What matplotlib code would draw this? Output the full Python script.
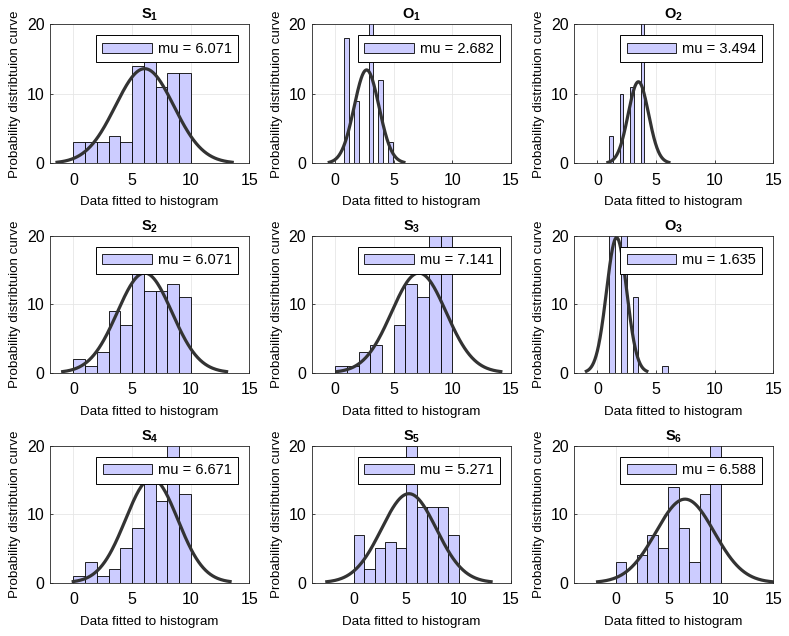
import numpy as np
import matplotlib
matplotlib.use("Agg")
import matplotlib.pyplot as plt

plt.rcParams['font.family'] = ['Liberation Sans', 'DejaVu Sans']
plt.rcParams['mathtext.fontset'] = 'custom'
plt.rcParams['mathtext.rm'] = 'Liberation Sans'
plt.rcParams['mathtext.bf'] = 'Liberation Sans:bold'
plt.rcParams['mathtext.it'] = 'Liberation Sans:italic'

# ---- data ----
titles = ['S_1', 'O_1', 'O_2', 'S_2', 'S_3', 'O_3', 'S_4', 'S_5', 'S_6']
mus = [6.071, 2.682, 3.494, 6.071, 7.141, 1.635, 6.671, 5.271, 6.588]
sigmas = [2.49, 1.06, 0.867, 2.33, 2.33, 0.86, 2.23, 2.61, 2.78]
bin_starts = [0.0, 0.75, 1.0, 0.0, 0.0, 1.0, 0.0, 0.0, 0.0]
bin_widths = [1.0, 0.42, 0.3, 1.0, 1.0, 0.5, 1.0, 1.0, 1.0]
counts_S1 = [3, 3, 3, 4, 3, 14, 18, 11, 13, 13]
counts_O1 = [18, 0, 9, 0, 0, 43, 0, 12, 0, 3]
counts_O2 = [4, 0, 0, 10, 0, 0, 11, 0, 0, 60]
counts_S2 = [2, 1, 3, 9, 7, 15, 12, 12, 13, 11]
counts_S3 = [1, 1, 3, 4, 0, 7, 13, 11, 21, 24]
counts_O3 = [46, 0, 27, 0, 11, 0, 0, 0, 0, 1]
counts_S4 = [1, 3, 1, 2, 5, 8, 15, 12, 25, 13]
counts_S5 = [7, 2, 5, 6, 5, 20, 11, 11, 11, 7]
counts_S6 = [3, 0, 4, 7, 5, 14, 8, 3, 13, 28]
all_counts = [counts_S1, counts_O1, counts_O2, counts_S2, counts_S3,
              counts_O3, counts_S4, counts_S5, counts_S6]
xlims_left = [-2, -2, -2, -2, -2, -2, -2, -4, -4]
x_ticks = [0, 5, 10, 15]
y_ticks = [0, 10, 20]

# ---- layout ----
W, H = 789, 636
fig = plt.figure(figsize=(W / 100, H / 100), dpi=100)
col_left = [50, 311.7, 574]
ax_w = 199.3
row_top = [24.3, 235.7, 445.7]
row_h = [139, 137, 137]

bar_face = (0.8, 0.8, 1.0)
curve_col = (0.2, 0.2, 0.2)

for i in range(9):
    r, c = divmod(i, 3)
    left = col_left[c] / W
    bottom = 1 - (row_top[r] + row_h[r]) / H
    ax = fig.add_axes([left, bottom, ax_w / W, row_h[r] / H])
    counts = np.array(all_counts[i])
    bw = bin_widths[i]
    edges = bin_starts[i] + bw * np.arange(len(counts) + 1)
    centers = edges[:-1] + bw / 2
    bars = ax.bar(centers, counts, width=bw, color=bar_face,
                  edgecolor='black', linewidth=0.6, zorder=2)
    n = counts.sum()
    mu, sd = mus[i], sigmas[i]
    xs = np.linspace(mu - 3 * sd, mu + 3 * sd, 200)
    ys = n * bw * np.exp(-0.5 * ((xs - mu) / sd) ** 2) / (sd * np.sqrt(2 * np.pi))
    ax.plot(xs, ys, color=curve_col, linewidth=2.3, zorder=3)

    ax.set_xlim(xlims_left[i], 15)
    ax.set_ylim(0, 20)
    ax.set_xticks(x_ticks)
    ax.set_yticks(y_ticks)
    ax.grid(True, color=(0.9, 0.9, 0.9), linewidth=0.6, zorder=0)
    ax.set_axisbelow(True)
    for sp in ax.spines.values():
        sp.set_color((0.15, 0.15, 0.15))
        sp.set_linewidth(0.6)
    ax.tick_params(direction='in', length=2.5, width=0.6, labelsize=11.5,
                   colors=(0.15, 0.15, 0.15), labelcolor='black')
    ax.tick_params(axis='x', pad=7)
    ax.tick_params(axis='y', pad=4)
    ax.set_title(r'$\mathbf{' + titles[i] + '}$', fontsize=10.5, pad=4)
    ax.set_xlabel('Data fitted to histogram', fontsize=9.6, labelpad=6)
    ax.set_ylabel('Probability distribtuion curve', fontsize=9.6, labelpad=4)
    leg = ax.legend([bars], ['mu = %.3f' % mu], loc='upper right',
                    fontsize=10.5, handlelength=3.4, handleheight=0.72,
                    handletextpad=0.4, borderpad=0.45, borderaxespad=0.75,
                    fancybox=False, framealpha=1, edgecolor='black')
    leg.get_frame().set_linewidth(0.7)
    leg.set_zorder(5)

fig.savefig('out.png', dpi=100)
